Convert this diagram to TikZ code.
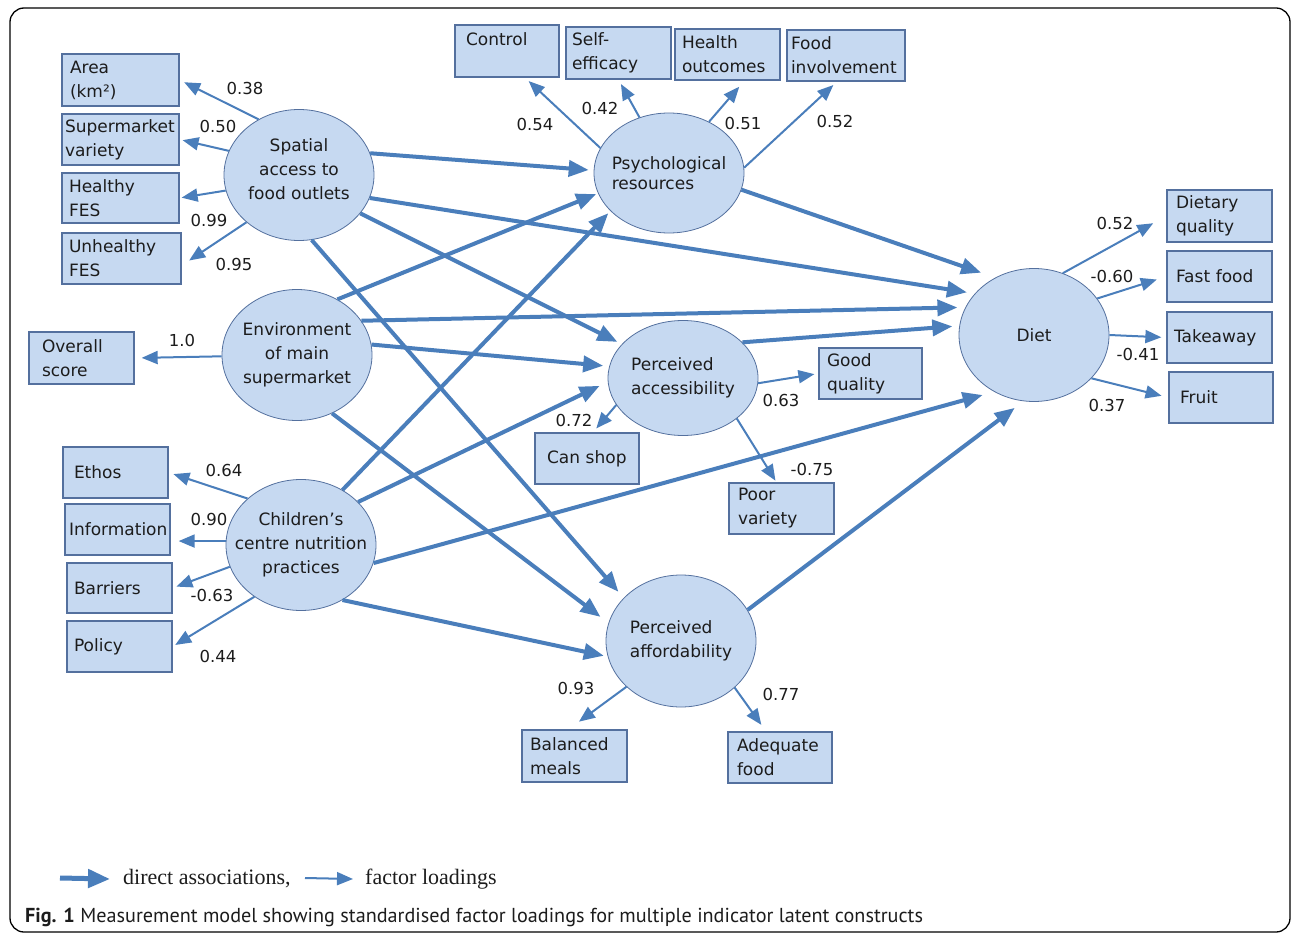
\documentclass[tikz,border=0pt]{standalone}
\usepackage{fontspec}
\setmainfont{DejaVu Sans}
\newfontfamily\legendfont{Liberation Serif}
\newfontfamily\captionfont{PT Sans}
\usetikzlibrary{shapes.geometric,arrows.meta}
\hyphenpenalty=10000
\definecolor{semblue}{RGB}{74,126,187}
\definecolor{semfill}{RGB}{198,217,241}
\definecolor{semedge}{RGB}{84,112,158}
\definecolor{semtext}{RGB}{28,28,28}
\tikzset{
  latent/.style={ellipse, draw=semedge, line width=0.8pt, fill=semfill,
    minimum width=150pt, minimum height=131pt, inner xsep=-20pt, inner ysep=0pt,
    align=center, text=semtext, font=\fontsize{17}{24}\selectfont},
  indicator/.style={rectangle, draw=semedge, line width=1.3pt, fill=semfill,
    inner ysep=0pt, align=left, text=semtext, font=\fontsize{17}{24}\selectfont},
  direct/.style={semblue, line width=4pt, -{Triangle[length=20pt,width=16pt]}},
  loading/.style={semblue, line width=2pt, -{Triangle[length=16pt,width=13pt]}},
  coef/.style={inner sep=0pt, text=semtext, font=\fontsize{16.5}{20}\selectfont},
  legend/.style={inner sep=0pt, anchor=west, text=semtext, font=\legendfont\fontsize{22}{24}\selectfont},
}
\begin{document}
\begin{tikzpicture}[x=1pt,y=-1pt]
\useasboundingbox (0,0) rectangle (1292,936);
   \newcommand{\indbox}[7][8]{
        \pgfmathsetmacro\bw{#5-#3}
        \pgfmathsetmacro\bh{#6-#4}
        \pgfmathsetmacro\tw{#5-#3-2*#1}
        \node[indicator, minimum width=\bw pt, minimum height=\bh pt,
          text width=\tw pt, inner xsep=#1pt] (#2) at ({(#3+#5)/2},{(#4+#6)/2}) {#7};
    }
\draw[line width=1.3pt, rounded corners=14pt] (10,8) rectangle (1290,932);

\node[latent] (spatial) at (299,175) {Spatial\\access to\\food outlets\\[-12pt]};
\node[latent] (env) at (297,355) {Environment\\of main\\supermarket};
\node[latent] (child) at (301,545) {Children’s\\centre nutrition\\practices};
\node[latent, minimum height=120pt, align=left, font=\fontsize{17}{20}\selectfont] (psych) at (669,173) {Psychological\\resources};
\node[latent, minimum height=115pt, align=left] (access) at (683,378) {Perceived\\accessibility};
\node[latent, minimum height=132pt, align=left] (afford) at (681,641) {Perceived\\affordability};
\node[latent, minimum height=133pt] (diet) at (1034,335) {Diet};

\indbox{area}{62}{54}{179}{106}{Area\\(km²)}
\indbox[3]{supvar}{62}{114}{179}{165}{Supermarket\\variety}
\indbox[7]{healthy}{62}{173}{179}{223}{Healthy\\FES}
\indbox[7]{unhealthy}{62}{233}{181}{284}{Unhealthy\\FES}
\indbox[13]{overall}{29}{332}{134}{384}{Overall\\score}
\indbox[11]{ethos}{63}{447}{168}{498}{Ethos}
\indbox[4]{inform}{65}{504}{170}{555}{Information}
\indbox[7]{barriers}{67}{563}{172}{613}{Barriers}
\indbox[7]{policy}{67}{621}{172}{672}{Policy}
\indbox[11]{control}{455}{25}{559}{77}{Control\\~}
\indbox[6]{selfeff}{566}{27}{671}{79}{Self-\\efficacy}
\indbox[7]{health}{675}{29}{780}{80}{Health\\outcomes}
\indbox[4]{foodinv}{787}{30}{905}{81}{Food\\involvement}
\indbox[9]{dietq}{1167}{190}{1272}{242}{Dietary\\quality}
\indbox[9]{fastfood}{1167}{251}{1272}{302}{Fast food}
\indbox[7]{takeaway}{1167}{312}{1272}{363}{Takeaway}
\indbox[11]{fruit}{1169}{372}{1273}{423}{Fruit}
\indbox{goodq}{819}{348}{922}{399}{Good\\quality}
\indbox[12]{canshop}{535}{433}{639}{484}{Can shop}
\indbox[9]{poorvar}{729}{483}{834}{534}{Poor\\variety}
\indbox{balanced}{522}{730}{627}{782}{Balanced\\meals}
\indbox[9]{adequate}{728}{732}{832}{783}{Adequate\\food}

\draw[direct, shorten >=5pt] (spatial.17) -- (psych.178);
\draw[direct, shorten >=8pt] (spatial.342) -- (diet.145);
\draw[direct, shorten >=5pt] (spatial.328) -- (access.151);
\draw[direct, shorten >=8pt] (spatial.281) -- (afford.143);
\draw[direct, shorten >=2pt] (env.54) -- (psych.196);
\draw[direct, shorten >=8pt] (env.28) -- (diet.158);
\draw[direct, shorten >=6pt] (env.8) -- (access.171);
\draw[direct, shorten >=10pt] (env.301) -- (afford.166);
\draw[direct, shorten >=3pt] (child.53) -- (psych.213);
\draw[direct, shorten >=9pt] (child.37) -- (access.183);
\draw[direct, shorten >=12pt] (child.346) -- (diet.235);
\draw[direct, shorten >=4pt] (child.307) -- (afford.192);
\draw[direct, shorten >=15pt] (psych.347) -- (diet.124);
\draw[direct, shorten >=7pt] (access.31) -- (diet.173);
\draw[direct, shorten >=11pt] (afford.25) -- (diet.261);

\draw[loading, shorten >=5pt] (spatial.126) -- (area.east);
\draw[loading, shorten >=3pt] (spatial.161) -- (supvar.east);
\draw[loading, shorten >=2pt] (spatial.192) -- (healthy.east);
\draw[loading, shorten >=9pt] (spatial.222) -- ([yshift=-7pt]unhealthy.east);
\draw[loading, shorten >=7pt] (env.181) -- (overall.east);
\draw[loading, shorten >=5pt] (child.139) -- (ethos.east);
\draw[loading, shorten >=8pt] (child.177) -- (child.177 -| inform.east);
\draw[loading, shorten >=4pt] (child.197) -- (barriers.east);
\draw[loading, shorten >=3pt] (child.228) -- (policy.east);
\draw[loading, shorten >=5pt] (psych.160) -- ([xshift=18pt]control.south);
\draw[loading, shorten >=5pt] (psych.118) -- (selfeff.south);
\draw[loading, shorten >=8pt] (psych.52) -- ([xshift=17pt]health.south);
\draw[loading, shorten >=5pt] (psych.4) -- ([xshift=-9pt]foodinv.south);
\draw[loading, shorten >=15pt] (diet.65) -- (dietq.west);
\draw[loading, shorten >=10pt] (diet.30) -- (fastfood.west);
\draw[loading, shorten >=5pt] (diet.0) -- (takeaway.west);
\draw[loading, shorten >=7pt] (diet.323) -- (fruit.west);
\draw[loading, shorten >=4pt] (access.356) -- (goodq.west);
\draw[loading, shorten >=5pt] (access.202) -- ([xshift=6pt]canshop.north);
\draw[loading, shorten >=2pt] (access.323) -- ([xshift=-5pt]poorvar.north);
\draw[loading, shorten >=13pt] (afford.220) -- ([xshift=-6pt]balanced.north);
\draw[loading, shorten >=8pt] (afford.319) -- ([xshift=-14pt]adequate.north);

\node[coef] (cArea) at (245,88) {0.38};
\node[coef] (cSupvar) at (218,126) {0.50};
\node[coef] (cHealthy) at (209,220) {0.99};
\node[coef] (cUnhealthy) at (234,264) {0.95};
\node[coef] (cOverall) at (182,340) {1.0};
\node[coef] (cEthos) at (224,470) {0.64};
\node[coef] (cInform) at (209,519) {0.90};
\node[coef] (cBarriers) at (212,595) {-0.63};
\node[coef] (cPolicy) at (218,656) {0.44};
\node[coef] (cControl) at (535,124) {0.54};
\node[coef] (cSelfeff) at (600,108) {0.42};
\node[coef] (cHealth) at (743,123) {0.51};
\node[coef] (cFoodinv) at (835,121) {0.52};
\node[coef] (cDietq) at (1115,223) {0.52};
\node[coef] (cFastfood) at (1112,276) {-0.60};
\node[coef] (cTakeaway) at (1138,354) {-0.41};
\node[coef] (cFruit) at (1107,405) {0.37};
\node[coef] (cGoodq) at (781,400) {0.63};
\node[coef] (cCanshop) at (574,420) {0.72};
\node[coef] (cPoorvar) at (812,469) {-0.75};
\node[coef] (cBalanced) at (576,688) {0.93};
\node[coef] (cAdequate) at (781,694) {0.77};

\coordinate (legA) at (60,878);
\node[legend] (legdirect) at (123,879) {direct associations,};
\draw[direct, line width=5pt, -{Triangle[length=22pt,width=18pt]}] (legA) -- ([xshift=-13pt]legdirect.west);
\coordinate (legB) at (305,878);
\node[legend] (legload) at (365,879) {factor loadings};
\draw[loading] (legB) -- ([xshift=-12pt]legload.west);

\node[anchor=base west, inner sep=0pt, text=semtext, font=\captionfont\fontsize{20.2}{24}\selectfont] (caption) at (25,922)
  {\textbf{Fig. 1} Measurement model showing standardised factor loadings for multiple indicator latent constructs};
\end{tikzpicture}
\end{document}
